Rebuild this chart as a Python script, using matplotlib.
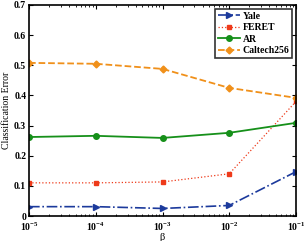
import numpy as np
import matplotlib.pyplot as plt

beta = [1e-5, 1e-4, 1e-3, 1e-2, 1e-1]
yale = [0.031, 0.031, 0.025, 0.035, 0.147]
feret = [0.110, 0.110, 0.113, 0.140, 0.380]
ar = [0.262, 0.266, 0.259, 0.276, 0.309]
caltech = [0.508, 0.505, 0.488, 0.425, 0.392]

plt.rcParams['font.family'] = ['Liberation Serif', 'DejaVu Serif']
plt.rcParams['font.weight'] = 'bold'
plt.rcParams['mathtext.fontset'] = 'custom'
plt.rcParams['mathtext.rm'] = 'Liberation Serif:bold'
plt.rcParams['mathtext.bf'] = 'Liberation Serif:bold'
plt.rcParams['mathtext.default'] = 'bf'

fig = plt.figure(figsize=(3.04, 2.41), dpi=100)
ax = fig.add_axes([29 / 304, 25 / 241, 267 / 304, 211 / 241])

ax.plot(beta, yale, color='#1c3a9c', linestyle='-.', marker='>', markersize=4, linewidth=1.2, label='Yale')
ax.plot(beta, feret, color='#ee3a1a', linestyle=':', marker='s', markersize=3, linewidth=0.9, label='FERET')
ax.plot(beta, ar, color='#16901a', linestyle='-', marker='o', markersize=4, linewidth=1.3, label='AR')
ax.plot(beta, caltech, color='#f0901a', linestyle='--', marker='D', markersize=3.5, linewidth=1.3, label='Caltech256')

ax.set_xscale('log')
ax.set_xlim(1e-5, 1e-1)
ax.set_ylim(0, 0.7)
ax.set_yticks(np.arange(0, 0.71, 0.1))
ax.set_yticklabels(['0', '0.1', '0.2', '0.3', '0.4', '0.5', '0.6', '0.7'])
ax.set_xticks(beta)
ax.tick_params(which='both', direction='in', top=True, right=True, labelsize=7)
ax.tick_params(which='major', length=3, width=0.8, pad=2)
ax.tick_params(axis='x', which='major', pad=3)
ax.tick_params(which='minor', length=1.5, width=0.6)
for s in ax.spines.values():
    s.set_linewidth(1.2)

ax.set_xlabel('β', fontsize=7.5, labelpad=0)
ax.set_ylabel('Classification Error', fontsize=7, labelpad=2)

leg = ax.legend(loc='upper right', fontsize=7, fancybox=False, handlelength=2.2,
                borderpad=0.3, labelspacing=0.25, handletextpad=0.3, borderaxespad=0.4)
leg.get_frame().set_edgecolor('black')
leg.get_frame().set_linewidth(1.2)

fig.savefig('out.png', dpi=100)
